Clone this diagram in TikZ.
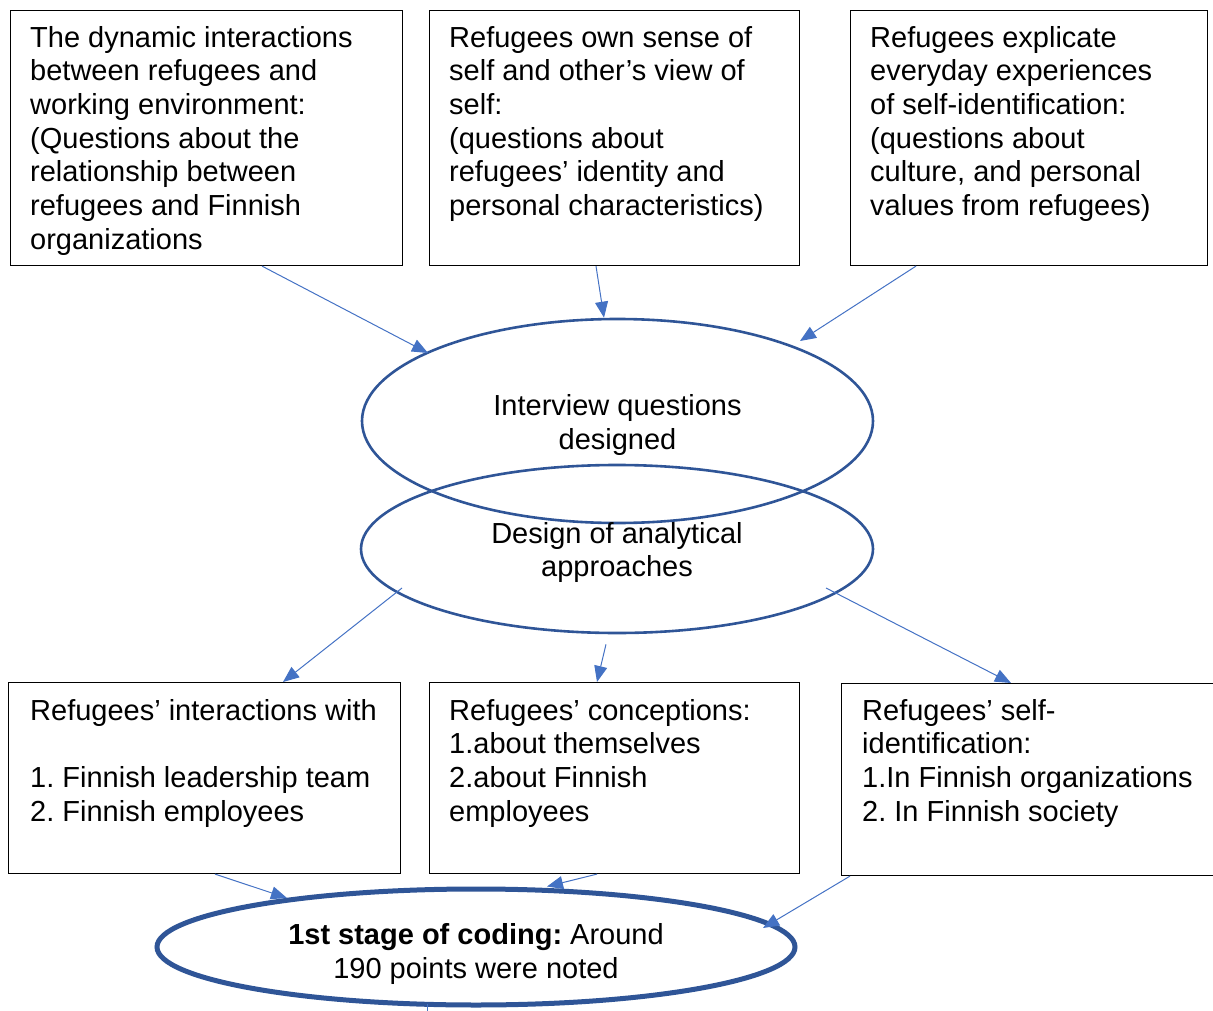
\documentclass[tikz,border=0pt]{standalone}
\usepackage{fontspec}
\setmainfont{Liberation Sans}
\usetikzlibrary{shapes.geometric,arrows.meta,calc}
\definecolor{linkblue}{HTML}{4472C4}
\definecolor{ringblue}{HTML}{2F5597}
\frenchspacing

\begin{document}
\begin{tikzpicture}[x=1pt,y=-1pt,
  every node/.style={font=\fontsize{29}{33.7}\selectfont},
  frame/.style={draw=black, line width=1.1pt, rectangle, anchor=north west, inner sep=0pt},
  boxtext/.style={anchor=north west, inner sep=0pt, align=left},
  oval/.style={draw=ringblue, line width=2.6pt, ellipse, inner sep=0pt},
  ovaltext/.style={inner sep=0pt, align=center},
  link/.style={draw=linkblue, line width=1pt, -{Triangle[length=16pt,width=13pt]}}]

\useasboundingbox (0,0) rectangle (1213,1011);

% top row of boxes
\node[frame, minimum width=392pt, minimum height=255pt] (b1) at (10,10) {};
\node[frame, minimum width=370pt, minimum height=255pt] (b2) at (429,10) {};
\node[frame, minimum width=357pt, minimum height=255pt] (b3) at (850,10) {};

\node[boxtext] (t1) at ($(b1.north west)+(20,13.3)$)
  {\strut The dynamic interactions\\between refugees and\\working environment:\\(Questions about the\\relationship between\\refugees and Finnish\\organizations};
\node[boxtext] (t2) at ($(b2.north west)+(20,13.3)$)
  {\strut Refugees own sense of\\self and other’s view of\\self:\\(questions about\\refugees’ identity and\\personal characteristics)};
\node[boxtext] (t3) at ($(b3.north west)+(20,13.3)$)
  {\strut Refugees explicate\\everyday experiences\\of self-identification:\\(questions about\\culture, and personal\\values from refugees)};

% central ellipses
\node[oval, minimum width=511pt, minimum height=204pt] (e1) at (617.5,421) {};
\node[ovaltext] (e1t) at ($(e1.center)+(0,4)$) {Interview questions\\designed};
\node[oval, minimum width=512pt, minimum height=168pt] (e2) at (617,549) {};
\node[ovaltext] (e2t) at ($(e2.center)+(0,3.5)$) {Design of analytical\\approaches};

% bottom row of boxes
\node[frame, minimum width=392pt, minimum height=191pt] (b4) at (8,682) {};
\node[frame, minimum width=370pt, minimum height=191pt] (b5) at (429,682) {};
\node[frame, minimum width=375pt, minimum height=192pt] (b6) at (841,683) {};

\node[boxtext] (t4) at ($(b4.north west)+(22,14.3)$)
  {\strut Refugees’ interactions with\\[33.7pt]1. Finnish leadership team\\2. Finnish employees};
\node[boxtext] (t5) at ($(b5.north west)+(20,14.3)$)
  {\strut Refugees’ conceptions:\\1.about themselves\\2.about Finnish\\employees};
\node[boxtext] (t6) at ($(b6.north west)+(21,13.4)$)
  {\strut Refugees’ self-\\identification:\\1.In Finnish organizations\\2. In Finnish society};

% final coding stage
\node[oval, line width=5pt, minimum width=638pt, minimum height=116pt] (e3) at (476,947) {};
\node[ovaltext] (e3t) at ($(e3.center)+(0,7)$)
  {\textbf{1st stage of coding:} Around\\190 points were noted};
\coordinate (out) at (427,1016);

% connectors
\draw[link] ($(b1.south west)+(252,0)$) -- ($(e1.center)+(-189.5,-68)$);
\draw[link] ($(b2.south west)+(167,0)$) -- ($(e1.north)+(-13.5,0)$);
\draw[link] ($(b3.south west)+(66,0)$) -- ($(e1.center)+(182.5,-80)$);

\draw[link] ($(e2.center)+(-215,39)$) -- ($(b4.north west)+(275,0)$);
\draw[link] ($(e2.south)+(-11,10)$) -- ($(b5.north west)+(168,0)$);
\draw[link] ($(e2.center)+(209,39)$) -- ($(b6.north west)+(170,0)$);

\draw[link] ($(b4.south west)+(207,0)$) -- ($(e3.center)+(-189,-49)$);
\draw[link] ($(b5.south west)+(168,0)$) -- ($(e3.north)+(71,0)$);
\draw[link] ($(b6.south west)+(9,0)$) -- ($(e3.center)+(287,-19)$);
\draw[linkblue, line width=1pt] ($(e3.center)+(-49,57)$) -- (out);
\end{tikzpicture}
\end{document}
